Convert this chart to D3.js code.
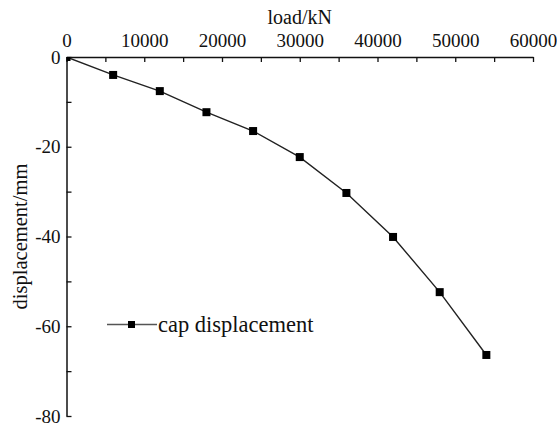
<!DOCTYPE html>
<html>
<head>
<meta charset="utf-8">
<script src="https://cdn.jsdelivr.net/npm/d3@7"></script>
<style>
  body { margin: 0; background: #fff; }
  svg { display: block; }
  text { font-family: "Liberation Serif", "Times New Roman", serif; fill: #111; }
</style>
</head>
<body>
<svg id="chart" width="557" height="423"></svg>
<script>
// load steps (kN) and cap displacement (mm)
var load = [0, 6000, 12000, 18000, 24000, 30000, 36000, 42000, 48000, 54000];
var displacement = [0, -4.0, -7.6, -12.3, -16.5, -22.3, -30.3, -40.1, -52.4, -66.4];
var x_ticks = [0, 5000, 10000, 15000, 20000, 25000, 30000, 35000, 40000, 45000, 50000, 55000, 60000];
var y_ticks = [0, -10, -20, -30, -40, -50, -60, -70, -80];
var series_name = "cap displacement";

var svg = d3.select("#chart");

var x = d3.scaleLinear().domain([0, 60000]).range([66.5, 533]);
var y = d3.scaleLinear().domain([0, -80]).range([57, 416]);

// clip so the marker at the origin is cut by the axes
svg.append("clipPath").attr("id", "plotclip")
  .append("rect")
    .attr("x", x(0)).attr("y", y(0))
    .attr("width", x(60000) - x(0)).attr("height", y(-80) - y(0));

var xAxis = d3.axisTop(x)
  .tickValues(x_ticks)
  .tickSizeInner(-5)
  .tickSizeOuter(0)
  .tickPadding(10)
  .tickFormat(function(d) { return d % 10000 === 0 ? d : ""; });

var yAxis = d3.axisLeft(y)
  .tickValues(y_ticks)
  .tickSizeInner(-5)
  .tickSizeOuter(0)
  .tickPadding(6)
  .tickFormat(function(d) { return d % 20 === 0 ? d : ""; });

function style_axis(g) {
  g.attr("font-family", null).attr("font-size", null);
  g.select(".domain").attr("stroke", "#111").attr("stroke-width", 1.5);
  g.selectAll(".tick line").attr("stroke", "#111").attr("stroke-width", 1.3);
  g.selectAll(".tick text")
    .style("font-family", "'Liberation Serif', 'Times New Roman', serif")
    .style("font-size", "19px")
    .attr("fill", "#111");
}

svg.append("g")
  .attr("transform", "translate(0," + y(0) + ")")
  .call(xAxis)
  .call(style_axis);

svg.append("g")
  .attr("transform", "translate(" + x(0) + ",0)")
  .call(yAxis)
  .call(style_axis);

// axis titles
svg.append("text")
  .attr("x", (x(0) + x(60000)) / 2)
  .attr("y", 24)
  .attr("text-anchor", "middle")
  .attr("font-size", 20)
  .text("load/kN");

svg.append("text")
  .attr("transform", "translate(27," + (y(0) + y(-80)) / 2 + ") rotate(-90)")
  .attr("text-anchor", "middle")
  .attr("font-size", 20.5)
  .text("displacement/mm");

var pts = load.map(function(d, i) { return { load: d, disp: displacement[i] }; });

var line = d3.line()
  .x(function(d) { return x(d.load); })
  .y(function(d) { return y(d.disp); });

var plot = svg.append("g").attr("clip-path", "url(#plotclip)");

plot.append("path")
  .datum(pts)
  .attr("fill", "none")
  .attr("stroke", "#222")
  .attr("stroke-width", 1.4)
  .attr("d", line);

plot.selectAll("rect.marker")
  .data(pts)
  .enter()
  .append("rect")
    .attr("class", "marker")
    .attr("x", function(d) { return x(d.load) - 4; })
    .attr("y", function(d) { return y(d.disp) - 4; })
    .attr("width", 8)
    .attr("height", 8)
    .attr("fill", "#000");

// legend
var legend = svg.append("g").attr("transform", "translate(107,324.5)");
legend.append("line")
  .attr("x1", 0).attr("x2", 50)
  .attr("stroke", "#555").attr("stroke-width", 1.4);
legend.append("rect")
  .attr("x", 21).attr("y", -3.5)
  .attr("width", 7).attr("height", 7)
  .attr("fill", "#000");
legend.append("text")
  .attr("x", 51)
  .attr("y", 7.5)
  .attr("font-size", 22.5)
  .text(series_name);
</script>
</body>
</html>
